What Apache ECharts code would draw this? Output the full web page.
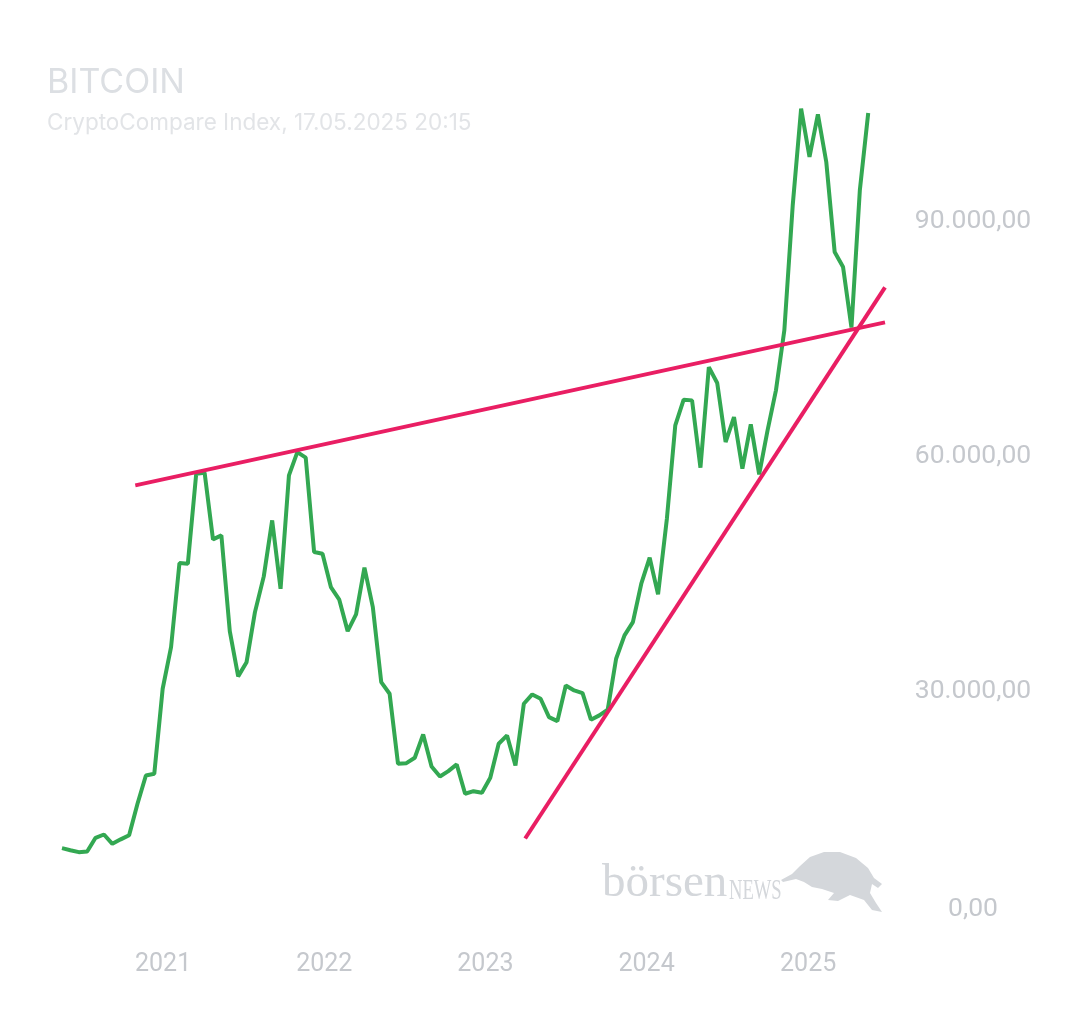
<!DOCTYPE html>
<html>
<head>
<meta charset="utf-8">
<script src="https://cdn.jsdelivr.net/npm/echarts@6/dist/echarts.min.js"></script>
<style>
html, body { margin: 0; padding: 0; background: #fff; }
#chart { width: 1080px; height: 1013px; }
</style>
</head>
<body>
<div id="chart"></div>
<script>
// sampling: 97 closes, evenly spaced from 17.05.2020 to 17.05.2025
const startDate = '2020-05-17';
const spanDays = 1826;
const prices = [
    9570, 9310, 9060, 9150, 10900, 11320, 10130, 10700, 11230, 15250,
    18870, 19090, 29960, 35280, 46030, 45950, 57470, 57590, 49060, 49570,
    37330, 31540, 33360, 39760, 44330, 51490, 42750, 57250, 60230, 59510,
    47440, 47230, 42960, 41350, 37330, 39470, 45440, 40400, 30810, 29320,
    20370, 20440, 21130, 24120, 20020, 18740, 19420, 20280, 16530, 16860,
    16660, 18580, 22930, 23990, 20150, 28040, 29230, 28680, 26330, 25820,
    30380, 29740, 29400, 26000, 26550, 27280, 33800, 36780, 38480, 43390,
    46720, 42030, 51710, 63650, 66930, 66840, 58230, 71100, 69060, 61510,
    64710, 58110, 63770, 57380, 63010, 68120, 75800, 91790, 104160, 97970,
    103430, 97330, 85820, 83900, 76150, 93710, 103600
];
// trend lines drawn on the chart
const resistanceLine = [['2020-10-30', 55970], ['2025-06-24', 76820]];
const supportLine = [['2023-04-01', 10810], ['2025-06-24', 81300]];
const yTicks = [0, 30000, 60000, 90000];

const dates = prices.map((_, i) => {
    const t = new Date(startDate + 'T00:00:00');
    t.setDate(t.getDate() + Math.round(i * spanDays / (prices.length - 1)));
    return t;
});

const color = {
    price: '#33a852',
    trend: '#e91e63',
    label: '#c5c8cd',
    title: '#dcdfe3',
    sub: '#e2e4e7',
    mark: '#d4d7db',
};

const fmtDe = function (v) {
    const s = Math.round(v).toString().replace(/\B(?=(\d{3})+(?!\d))/g, '.');
    return s + ',00';
};

// watermark bull outline (logo, pixel space)
const bullShape = [
    [781, 880], [792, 874], [800, 866], [810, 857], [824, 852], [840, 852],
    [856, 858], [868, 868], [874, 878], [882, 884], [878, 888], [872, 884],
    [870, 893], [876, 903], [882, 912], [872, 910], [864, 900], [850, 895],
    [838, 901], [828, 900], [834, 893], [822, 889], [812, 887], [804, 882],
    [796, 879], [783, 882]
];

const chart = echarts.init(document.getElementById('chart'));
chart.setOption({
    animation: false,
    backgroundColor: '#fff',
    title: {
        text: 'BITCOIN',
        subtext: 'CryptoCompare Index, 17.05.2025 20:15',
        left: 42,
        top: 61,
        itemGap: 12,
        textStyle: { fontFamily: 'Inter', fontSize: 34, fontWeight: 'normal', color: color.title },
        subtextStyle: { fontFamily: 'Inter', fontSize: 22.5, color: color.sub },
    },
    grid: {
        left: 62,
        right: 195,
        top: 102,
        bottom: 90,
        outerBoundsMode: 'none',
    },
    xAxis: {
        type: 'time',
        min: startDate,
        max: '2025-06-24',
        axisLine: { show: false },
        axisTick: { show: false },
        splitLine: { show: false },
        axisLabel: {
            margin: 29,
            fontFamily: 'Roboto',
            fontSize: 25,
            color: color.label,
            hideOverlap: false,
            formatter: function (val) {
                const d = new Date(val);
                return d.getMonth() === 0 && d.getDate() === 1 ? String(d.getFullYear()) : '';
            },
        },
    },
    yAxis: {
        type: 'value',
        position: 'right',
        min: 0,
        max: 105000,
        interval: 30000,
        axisLine: { show: false },
        axisTick: { show: false },
        splitLine: { show: false },
        axisLabel: {
            showMaxLabel: false,
            align: 'center',
            margin: 88,
            fontFamily: 'Roboto',
            fontSize: 26.5,
            color: color.label,
            verticalAlignMinLabel: 'bottom',
            formatter: function (v) {
                return yTicks.indexOf(v) >= 0 ? '{t|' + fmtDe(v) + '}' : '';
            },
            rich: {
                t: { fontFamily: 'Roboto', fontSize: 26.5, color: color.label, padding: [5, 0, 0, 0] },
            },
        },
    },
    series: [
        {
            type: 'line',
            data: prices.map((p, i) => [dates[i], p]),
            symbol: 'none',
            lineStyle: { color: color.price, width: 4 },
            z: 2,
        },
        {
            type: 'line',
            data: resistanceLine,
            symbol: 'none',
            lineStyle: { color: color.trend, width: 4 },
            z: 3,
        },
        {
            type: 'line',
            data: supportLine,
            symbol: 'none',
            lineStyle: { color: color.trend, width: 4 },
            z: 3,
        },
    ],
    graphic: [
        {
            type: 'text',
            left: 602,
            top: 860,
            style: { text: 'börsen', font: '47px "Liberation Serif"', fill: color.mark },
        },
        {
            type: 'text',
            left: 729,
            top: 876,
            scaleX: 0.62,
            style: { text: 'NEWS', font: '30px "Liberation Serif"', fill: color.mark },
        },
        {
            type: 'polygon',
            shape: { points: bullShape },
            style: { fill: color.mark },
        },
    ],
});
</script>
</body>
</html>
